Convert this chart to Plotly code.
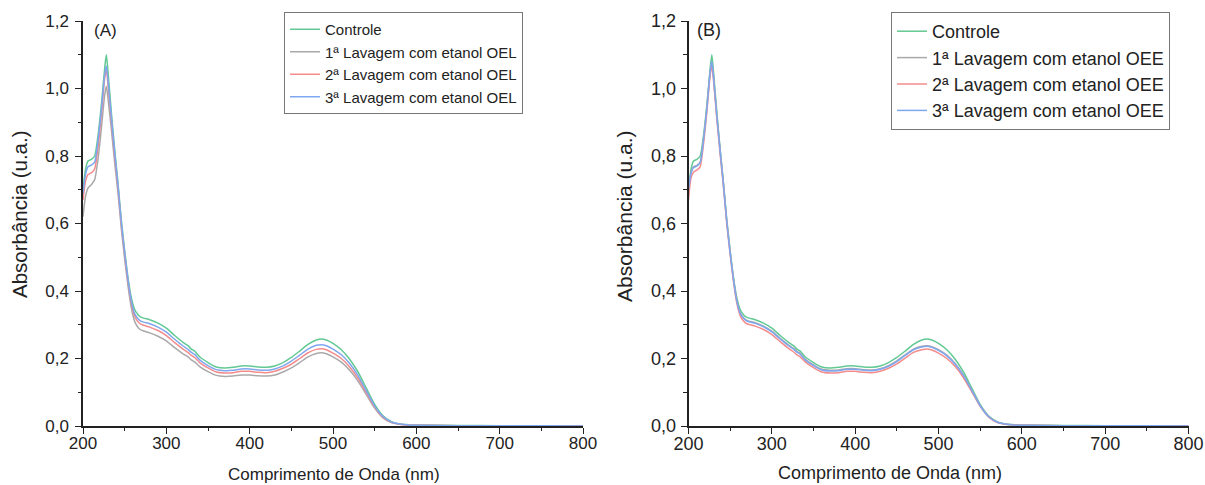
import plotly.graph_objects as go

wavelength = [200, 203, 206, 210, 214, 218, 222, 226, 228, 230, 234, 238, 242, 246, 250, 254, 258, 262, 266, 270,
              280, 290, 300, 310, 320, 326, 330, 334, 340, 350, 360, 370, 380, 390, 400, 410, 420, 430, 440, 450,
              460, 470, 480, 486, 492, 500, 510, 520, 530, 540, 550, 560, 570, 580, 590, 600, 650, 700, 750, 800]

controle = [0.70, 0.76, 0.785, 0.79, 0.80, 0.86, 0.95, 1.06, 1.10, 1.05, 0.93, 0.82, 0.72, 0.61, 0.52, 0.44, 0.38, 0.345, 0.33, 0.322,
            0.315, 0.305, 0.29, 0.268, 0.248, 0.238, 0.228, 0.222, 0.205, 0.188, 0.175, 0.172, 0.174, 0.178, 0.178, 0.175, 0.174, 0.178, 0.188, 0.203,
            0.222, 0.242, 0.255, 0.258, 0.255, 0.245, 0.226, 0.198, 0.16, 0.112, 0.064, 0.03, 0.013, 0.006, 0.004, 0.003, 0.0015, 0.001, 0.0005, 0.0]

oel_1 = [0.62, 0.68, 0.705, 0.715, 0.73, 0.79, 0.88, 0.98, 1.007, 0.97, 0.88, 0.78, 0.69, 0.585, 0.495, 0.415, 0.35, 0.31, 0.292, 0.284,
         0.276, 0.266, 0.252, 0.232, 0.214, 0.205, 0.196, 0.19, 0.176, 0.161, 0.15, 0.147, 0.148, 0.151, 0.151, 0.149, 0.148, 0.151, 0.16, 0.172,
         0.188, 0.205, 0.215, 0.217, 0.214, 0.205, 0.189, 0.165, 0.133, 0.093, 0.053, 0.024, 0.01, 0.005, 0.003, 0.002, 0.001, 0.0008, 0.0004, 0.0]

oel_2 = [0.67, 0.725, 0.745, 0.75, 0.762, 0.825, 0.92, 1.03, 1.057, 1.01, 0.905, 0.80, 0.705, 0.597, 0.507, 0.427, 0.363, 0.325, 0.309, 0.301,
         0.293, 0.283, 0.268, 0.247, 0.228, 0.218, 0.209, 0.203, 0.188, 0.172, 0.16, 0.157, 0.158, 0.162, 0.162, 0.159, 0.158, 0.162, 0.171, 0.183,
         0.20, 0.217, 0.227, 0.229, 0.226, 0.216, 0.20, 0.175, 0.141, 0.099, 0.056, 0.026, 0.011, 0.005, 0.003, 0.002, 0.001, 0.0008, 0.0004, 0.0]

oel_3 = [0.69, 0.745, 0.768, 0.773, 0.782, 0.845, 0.935, 1.04, 1.067, 1.025, 0.915, 0.81, 0.712, 0.603, 0.513, 0.433, 0.37, 0.333, 0.318, 0.31,
         0.303, 0.293, 0.278, 0.257, 0.237, 0.227, 0.218, 0.212, 0.196, 0.179, 0.167, 0.164, 0.165, 0.169, 0.169, 0.166, 0.165, 0.169, 0.178, 0.192,
         0.21, 0.228, 0.239, 0.241, 0.238, 0.228, 0.211, 0.185, 0.149, 0.104, 0.059, 0.028, 0.012, 0.006, 0.003, 0.002, 0.001, 0.0008, 0.0004, 0.0]

oee_1 = [0.70, 0.75, 0.768, 0.772, 0.782, 0.85, 0.94, 1.05, 1.076, 1.035, 0.92, 0.815, 0.715, 0.605, 0.515, 0.435, 0.372, 0.336, 0.321, 0.313,
         0.306, 0.296, 0.281, 0.26, 0.24, 0.23, 0.221, 0.215, 0.198, 0.181, 0.168, 0.165, 0.166, 0.17, 0.17, 0.167, 0.166, 0.17, 0.179, 0.193,
         0.211, 0.228, 0.236, 0.238, 0.235, 0.226, 0.21, 0.185, 0.15, 0.106, 0.061, 0.029, 0.012, 0.006, 0.003, 0.002, 0.001, 0.0008, 0.0004, 0.0]

oee_2 = [0.67, 0.735, 0.752, 0.758, 0.768, 0.835, 0.93, 1.04, 1.066, 1.025, 0.91, 0.805, 0.707, 0.598, 0.508, 0.428, 0.364, 0.327, 0.311, 0.303,
         0.296, 0.286, 0.271, 0.25, 0.23, 0.22, 0.211, 0.205, 0.19, 0.173, 0.16, 0.157, 0.158, 0.162, 0.162, 0.159, 0.158, 0.162, 0.171, 0.184,
         0.201, 0.218, 0.226, 0.228, 0.225, 0.216, 0.20, 0.176, 0.143, 0.101, 0.058, 0.027, 0.011, 0.005, 0.003, 0.002, 0.001, 0.0008, 0.0004, 0.0]

oee_3 = [0.70, 0.748, 0.766, 0.770, 0.780, 0.848, 0.94, 1.05, 1.081, 1.035, 0.918, 0.813, 0.713, 0.603, 0.513, 0.433, 0.370, 0.334, 0.319, 0.311,
         0.304, 0.294, 0.279, 0.258, 0.238, 0.228, 0.219, 0.213, 0.196, 0.179, 0.166, 0.163, 0.164, 0.168, 0.168, 0.165, 0.164, 0.168, 0.177, 0.191,
         0.209, 0.226, 0.234, 0.236, 0.233, 0.224, 0.208, 0.183, 0.149, 0.105, 0.060, 0.028, 0.012, 0.006, 0.003, 0.002, 0.001, 0.0008, 0.0004, 0.0]

names_a = ["Controle", "1ª Lavagem com etanol OEL", "2ª Lavagem com etanol OEL", "3ª Lavagem com etanol OEL"]
names_b = ["Controle", "1ª Lavagem com etanol OEE", "2ª Lavagem com etanol OEE", "3ª Lavagem com etanol OEE"]
series_a = [controle, oel_1, oel_2, oel_3]
series_b = [controle, oee_1, oee_2, oee_3]
colors = ["#63c994", "#a9a9a9", "#f48c8c", "#7fa7f0"]

x_ticks = [200, 300, 400, 500, 600, 700, 800]
y_ticks = [0.0, 0.2, 0.4, 0.6, 0.8, 1.0, 1.2]

FONT = "Liberation Sans, Arial, sans-serif"
INK = "#222"
fig = go.Figure()

for ys, nm, c in zip(series_a, names_a, colors):
    fig.add_trace(go.Scatter(x=wavelength, y=ys, name=nm, mode="lines",
                             line=dict(color=c, width=1.5, shape="spline", smoothing=0.6),
                             xaxis="x", yaxis="y", legend="legend"))
for ys, nm, c in zip(series_b, names_b, colors):
    fig.add_trace(go.Scatter(x=wavelength, y=ys, name=nm, mode="lines",
                             line=dict(color=c, width=1.5, shape="spline", smoothing=0.6),
                             xaxis="x2", yaxis="y2", legend="legend2"))

W, H = 1205, 485
def px_x(p): return p / W
def px_y(p): return 1 - p / H

ydom = [px_y(426), px_y(21)]

def axis(size, standoff, **kw):
    d = dict(showline=True, linecolor=INK, linewidth=1.5, ticks="outside", ticklen=6,
             tickwidth=1.3, tickcolor=INK, showgrid=False, zeroline=False, automargin=False,
             ticklabelstandoff=standoff,
             tickfont=dict(family=FONT, size=size, color=INK))
    d.update(kw)
    return d

xminor = dict(ticks="outside", ticklen=3.5, dtick=50, tick0=200, tickcolor=INK, tickwidth=1.2)
yminor = dict(ticks="outside", ticklen=3.5, dtick=0.1, tick0=0, tickcolor=INK, tickwidth=1.2)

fig.update_layout(
    width=W, height=H, margin=dict(l=0, r=0, t=0, b=0, autoexpand=False),
    paper_bgcolor="white", plot_bgcolor="white",
    separators=",.",
    font=dict(family=FONT, color=INK),
    xaxis=axis(17, -5, domain=[px_x(83), px_x(583)], range=[200, 800], tickvals=x_ticks, anchor="y", minor=xminor),
    yaxis=axis(17, 3, domain=ydom, range=[0, 1.2], tickvals=y_ticks, tickformat=".1f", anchor="x", minor=yminor),
    xaxis2=axis(18, -5, domain=[px_x(688.5), px_x(1188.5)], range=[200, 800], tickvals=x_ticks, anchor="y2", minor=xminor),
    yaxis2=axis(18, 1, domain=ydom, range=[0, 1.2], tickvals=y_ticks, tickformat=".1f", anchor="x2", minor=yminor),
    legend=dict(x=px_x(284), y=px_y(12), xanchor="left", yanchor="top",
                bordercolor="#777", borderwidth=1, bgcolor="white",
                font=dict(family=FONT, size=15, color=INK), tracegroupgap=0, itemwidth=30),
    legend2=dict(x=px_x(891), y=px_y(12), xanchor="left", yanchor="top",
                 bordercolor="#777", borderwidth=1, bgcolor="white",
                 font=dict(family=FONT, size=18, color=INK), tracegroupgap=0, itemwidth=30),
    showlegend=True,
)

annotations = [
    dict(text="(A)", x=px_x(92), y=px_y(30), xanchor="left", yanchor="middle", font=dict(family=FONT, size=17)),
    dict(text="(B)", x=px_x(695), y=px_y(30), xanchor="left", yanchor="middle", font=dict(family=FONT, size=18)),
    dict(text="Absorbância (u.a.)", x=px_x(19), y=px_y(214), textangle=-90, xanchor="center", yanchor="middle",
         font=dict(family=FONT, size=20.5)),
    dict(text="Absorbância (u.a.)", x=px_x(624), y=px_y(216), textangle=-90, xanchor="center", yanchor="middle",
         font=dict(family=FONT, size=21)),
    dict(text="Comprimento de Onda (nm)", x=px_x(334), y=px_y(474), xanchor="center", yanchor="middle",
         font=dict(family=FONT, size=17)),
    dict(text="Comprimento de Onda (nm)", x=px_x(890), y=px_y(473), xanchor="center", yanchor="middle",
         font=dict(family=FONT, size=18)),
]
for a in annotations:
    a["font"]["color"] = INK
    a.update(xref="paper", yref="paper", showarrow=False)
fig.update_layout(annotations=annotations)

fig.write_html("out.html")
